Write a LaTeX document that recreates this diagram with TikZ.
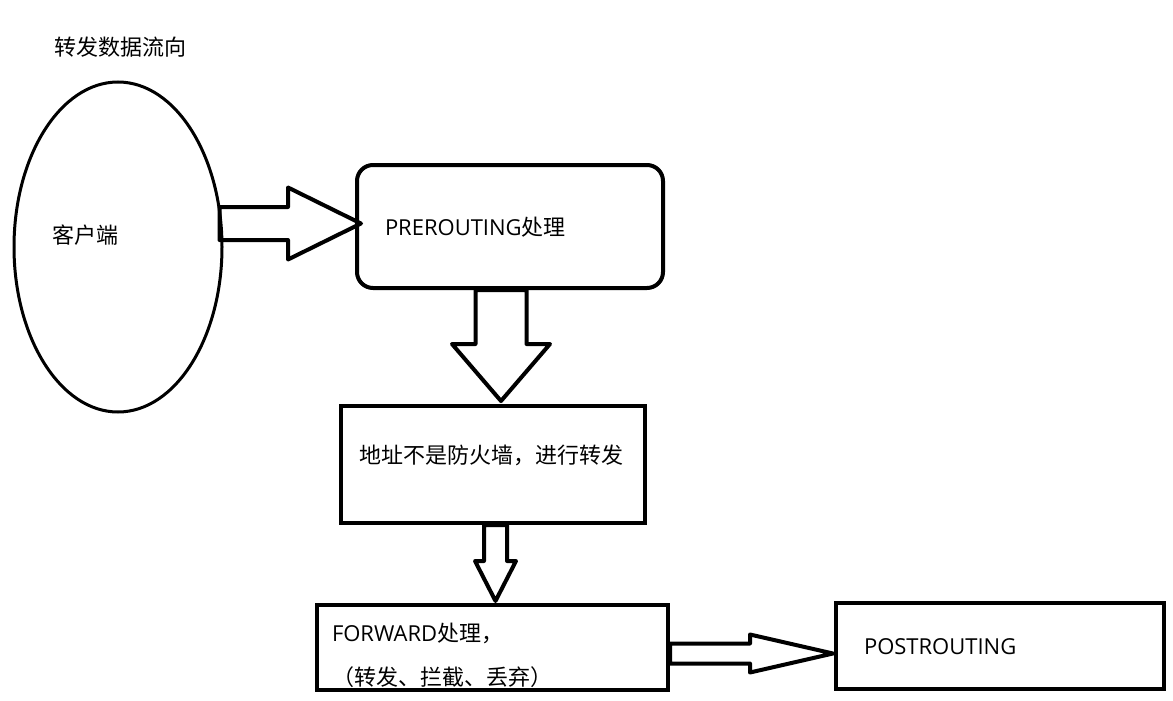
\documentclass[tikz,border=0pt]{standalone}
\usepackage{fontspec}
\setmainfont{Noto Sans CJK SC}
\newfontfamily\lat{Open Sans}
\usetikzlibrary{shapes.geometric,calc}

\tikzset{
  rfat/.style args={#1/#2/#3}{to path={let \p1=(\tikztostart),\p2=(\tikztotarget) in
    (\x1,\y1+#1) -- (\x2-#3,\y1+#1) -- (\x2-#3,\y1+#2) -- (\x2,\y1)
    -- (\x2-#3,\y1-#2) -- (\x2-#3,\y1-#1) -- (\x1,\y1-#1) -- cycle}},
  dfat/.style args={#1/#2/#3}{to path={let \p1=(\tikztostart),\p2=(\tikztotarget) in
    (\x1+#1,\y1) -- (\x1+#1,\y2+#3) -- (\x1+#2,\y2+#3) -- (\x1,\y2)
    -- (\x1-#2,\y2+#3) -- (\x1-#1,\y2+#3) -- (\x1-#1,\y1) -- cycle}},
}

\begin{document}
\begin{tikzpicture}[x=1pt, y=-1pt, line width=4pt, font=\fontsize{22}{26}\selectfont]
\useasboundingbox (0,0) rectangle (1173,701);
\node[inner sep=0, anchor=west](T) at (52,47){转发数据流向};
\node[draw, ellipse, line width=3pt, minimum width=208pt, minimum height=330pt](K) at (118,247){};
\node[inner sep=0, anchor=west](Kt) at (50,235){客户端};
\node[draw, rounded corners=16pt, minimum width=306pt, minimum height=123pt](A) at (510,226.5){};
\node[inner sep=0, anchor=west](At) at (383,227){{\lat PREROUTING}处理};
\node[draw, minimum width=304pt, minimum height=117pt](B) at (493,464.5){};
\node[inner sep=0, anchor=west](Bt) at (357,455){地址不是防火墙，进行转发};
\node[draw, minimum width=351pt, minimum height=85pt](C) at (492.5,647.5){};
\node[inner sep=0, anchor=west, align=left](Ct) at (330,655){{\lat FORWARD}处理，\\[18pt]（转发、拦截、丢弃）};
\node[draw, minimum width=328pt, minimum height=86pt](D) at (1000,646){};
\node[inner sep=0, anchor=west](Dt) at (862,647){\lat POSTROUTING};
\draw[line join=round] ($(K.east |- A.west)+(-4,-3)$) to[rfat=16.5pt/36pt/73pt] ($(A.west)+(6,-3)$);
\draw[line join=round] ($(A.south)+(-9,0)$) to[dfat=25.5pt/49pt/57pt] ($(B.north)+(0,-3)$);
\draw[line join=round] ($(B.south)+(2.5,0)$) to[dfat=11.5pt/20.5pt/40pt] ($(C.north)+(0,-2)$);
\draw[line join=round] ($(C.east)+(0,6)$) to[rfat=10pt/19pt/83pt] ($(D.west)+(-1,0)$);
\end{tikzpicture}
\end{document}
